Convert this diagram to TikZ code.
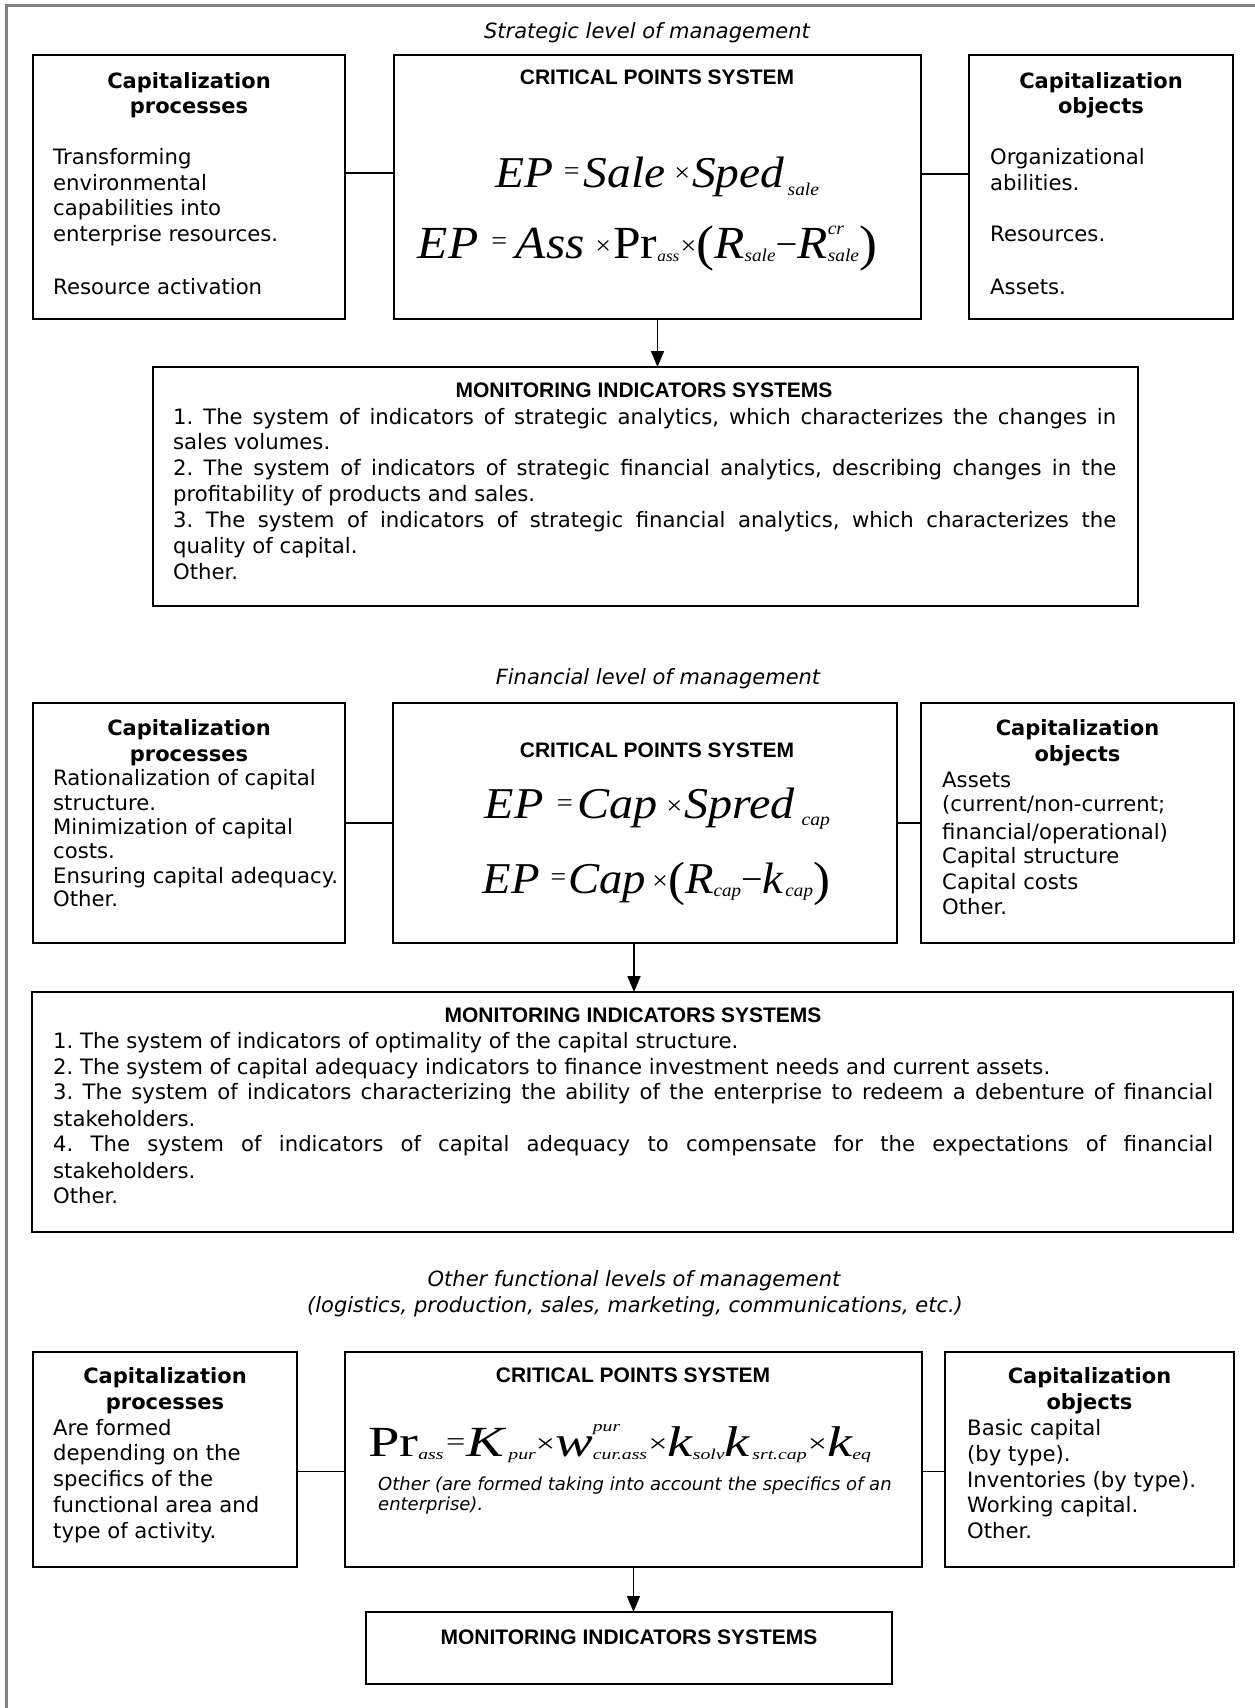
\documentclass[tikz,border=0pt]{standalone}
\usepackage{fontspec}
\usepackage{graphicx}
\usetikzlibrary{arrows.meta}
\newfontfamily\vfont{DejaVu Sans}
\newfontfamily\afont{Liberation Sans}
\newfontfamily\tfont{Liberation Serif}
\frenchspacing
% formula helpers
\newcommand\fxI[2]{{\fontsize{#1pt}{#1pt}\selectfont\itshape #2}}
\newcommand\fxR[2]{{\fontsize{#1pt}{#1pt}\selectfont #2}}
\newcommand\fxO[3]{\raisebox{#1pt}{\fontsize{#2pt}{#2pt}\selectfont #3}}
\newcommand\fxS[3]{\raisebox{#1pt}{\fontsize{#2pt}{#2pt}\selectfont\itshape #3}}
\newcommand\fxSS[5]{\makebox[0pt][l]{\raisebox{#1pt}{\fontsize{#5pt}{#5pt}\selectfont\itshape #2}}\raisebox{#3pt}{\fontsize{#5pt}{#5pt}\selectfont\itshape #4}}
\newcommand\jline[2]{\makebox[#1pt][s]{#2}}
\tikzset{
  box/.style={draw=black, line width=1.8pt, inner sep=0pt, outer sep=0pt},
  conn/.style={draw=black, line width=1.8pt},
  arr/.style={draw=black, line width=1.5pt, -{Triangle[length=16pt,width=13pt]}},
  body/.style={anchor=base west, inner sep=0pt, font=\vfont\fontsize{21.2pt}{25pt}\selectfont},
  ttl/.style={anchor=base, inner sep=0pt, font=\vfont\bfseries\fontsize{21pt}{25pt}\selectfont},
  hdr/.style={anchor=base, inner sep=0pt, font=\afont\bfseries\fontsize{21pt}{25pt}\selectfont},
  lvl/.style={anchor=base, inner sep=0pt, font=\vfont\itshape\fontsize{21pt}{25pt}\selectfont},
  note/.style={anchor=base west, inner sep=0pt, font=\vfont\itshape\fontsize{18pt}{20pt}\selectfont},
  frm/.style={anchor=base, inner sep=0pt, font=\tfont},
}
\begin{document}
\begin{tikzpicture}[x=1pt,y=-1pt]
\fill[white] (0,0) rectangle (1255,1708);
\useasboundingbox (0,0) rectangle (1255,1708);
\draw[gray, line width=3pt] (6.5,1708) -- (6.5,5) -- (1255,5);

% ===== Section 1 =====
\node[lvl] (lev1) at (647,38) {Strategic level of management};
\node[box, minimum width=312pt, minimum height=264pt] (L1) at (189,187) {};
\node[box, minimum width=527pt, minimum height=264pt] (C1) at (657.5,187) {};
\node[box, minimum width=264pt, minimum height=264pt] (R1) at (1101,187) {};
\node[box, minimum width=985pt, minimum height=239pt] (M1) at (645.5,486.5) {};
\draw[conn] ([yshift=14pt]L1.east) -- ([yshift=14pt]L1.east -| C1.west);
\draw[conn] ([yshift=13pt]C1.east) -- ([yshift=13pt]C1.east -| R1.west);
\draw[arr] (C1.south) -- (C1.south |- M1.north);

\node[ttl] (L1t1) at (189,88) {Capitalization};
\node[ttl] (L1t2) at (189,113) {processes};
\node[body] (L1a) at (53,164) {Transforming};
\node[body] (L1b) at (53,190) {environmental};
\node[body] (L1c) at (53,215) {capabilities into};
\node[body] (L1d) at (53,241) {enterprise resources.};
\node[body] (L1e) at (53,294) {Resource activation};

\node[ttl] (R1t1) at (1101,88) {Capitalization};
\node[ttl] (R1t2) at (1101,113) {objects};
\node[body] (R1a) at (990,164) {Organizational};
\node[body] (R1b) at (990,190) {abilities.};
\node[body] (R1c) at (990,241) {Resources.};
\node[body] (R1d) at (990,294) {Assets.};

\node[hdr] (C1h) at (657,84.5) {CRITICAL POINTS SYSTEM};
\node[frm] (C1f1) at (657,187) {\resizebox{324pt}{\height}{\fxI{44}{EP}\hspace{10pt}\fxO{8}{26}{=}\hspace{4pt}\fxI{44}{Sale}\hspace{8pt}\fxO{6}{26}{×}\hspace{2pt}\fxI{44}{Sped}\hspace{3pt}\fxS{-8}{18}{sale}}};
\node[frm] (C1f2) at (647.5,258) {\resizebox{459pt}{\height}{\fxI{46}{EP}\hspace{12pt}\fxO{9}{26}{=}\hspace{8pt}\fxI{46}{Ass}\hspace{10pt}\fxO{4}{26}{×}\hspace{2pt}\fxR{46}{Pr}\fxS{-3}{16}{ass}\hspace{1pt}\fxO{4}{26}{×}\raisebox{-2pt}{\fxR{50}{(}}\fxI{46}{R}\fxS{-3}{18}{sale}\fxO{2}{36}{−}\fxI{46}{R}\fxSS{24}{cr}{-3}{sale}{18}\raisebox{-2pt}{\fxR{50}{)}}}};

\node[hdr] (M1h) at (644,397.5) {MONITORING INDICATORS SYSTEMS};
\node[body] (M1a) at (173,424) {\jline{943}{1. The system of indicators of strategic analytics, which characterizes the changes in}};
\node[body] (M1b) at (173,449) {sales volumes.};
\node[body] (M1c) at (173,475) {\jline{943}{2. The system of indicators of strategic financial analytics, describing changes in the}};
\node[body] (M1d) at (173,501) {profitability of products and sales.};
\node[body] (M1e) at (173,527) {\jline{943}{3. The system of indicators of strategic financial analytics, which characterizes the}};
\node[body] (M1f) at (173,553) {quality of capital.};
\node[body] (M1g) at (173,579) {Other.};

% ===== Section 2 =====
\node[lvl] (lev2) at (658,684) {Financial level of management};
\node[box, minimum width=312pt, minimum height=240pt] (L2) at (189,823) {};
\node[box, minimum width=504pt, minimum height=240pt] (C2) at (645,823) {};
\node[box, minimum width=313pt, minimum height=240pt] (R2) at (1077.5,823) {};
\node[box, minimum width=1201pt, minimum height=240pt] (M2) at (632.5,1112) {};
\draw[conn] (L2.east) -- (C2.west);
\draw[conn] (C2.east) -- (R2.west);
\draw[arr] ([xshift=-11pt]C2.south) -- ([xshift=-11pt]C2.south |- M2.north);

\node[ttl] (L2t1) at (189,735) {Capitalization};
\node[ttl] (L2t2) at (189,761) {processes};
\node[body] (L2a) at (53,785) {Rationalization of capital};
\node[body] (L2b) at (53,810) {structure.};
\node[body] (L2c) at (53,834) {Minimization of capital};
\node[body] (L2d) at (53,858) {costs.};
\node[body] (L2e) at (53,883) {Ensuring capital adequacy.};
\node[body] (L2f) at (53,906) {Other.};

\node[ttl] (R2t1) at (1077.5,735) {Capitalization};
\node[ttl] (R2t2) at (1077.5,761) {objects};
\node[body] (R2a) at (942,787) {Assets};
\node[body] (R2b) at (942,811) {(current/non-current;};
\node[body] (R2c) at (942,839) {financial/operational)};
\node[body] (R2d) at (942,863) {Capital structure};
\node[body] (R2e) at (942,889) {Capital costs};
\node[body] (R2f) at (942,914) {Other.};

\node[hdr] (C2h) at (657,757.5) {CRITICAL POINTS SYSTEM};
\node[frm] (C2f1) at (657.5,818) {\resizebox{345pt}{\height}{\fxI{44}{EP}\hspace{12pt}\fxO{7}{26}{=}\hspace{4pt}\fxI{44}{Cap}\hspace{8pt}\fxO{4}{26}{×}\hspace{2pt}\fxI{44}{Spred}\hspace{6pt}\fxS{-7}{18}{cap}}};
\node[frm] (C2f2) at (656.5,893) {\resizebox{347pt}{\height}{\fxI{44}{EP}\hspace{10pt}\fxO{8}{26}{=}\hspace{2pt}\fxI{44}{Cap}\hspace{6pt}\fxO{4}{26}{×}\raisebox{-2pt}{\fxR{48}{(}}\fxI{44}{R}\fxS{-3}{18}{cap}\fxO{2}{36}{−}\fxI{44}{k}\hspace{2pt}\fxS{-3}{18}{cap}\raisebox{-2pt}{\fxR{48}{)}}}};

\node[hdr] (M2h) at (633,1022.5) {MONITORING INDICATORS SYSTEMS};
\node[body] (M2a) at (53,1048) {1. The system of indicators of optimality of the capital structure.};
\node[body] (M2b) at (53,1074) {2. The system of capital adequacy indicators to finance investment needs and current assets.};
\node[body] (M2c) at (53,1099) {\jline{1160}{3. The system of indicators characterizing the ability of the enterprise to redeem a debenture of financial}};
\node[body] (M2d) at (53,1126) {stakeholders.};
\node[body] (M2e) at (53,1151) {\jline{1160}{4. The system of indicators of capital adequacy to compensate for the expectations of financial}};
\node[body] (M2f) at (53,1178) {stakeholders.};
\node[body] (M2g) at (53,1203) {Other.};

% ===== Section 3 =====
\node[lvl] (lev3a) at (634,1286) {Other functional levels of management};
\node[lvl] (lev3b) at (635,1312) {(logistics, production, sales, marketing, communications, etc.)};
\node[box, minimum width=264pt, minimum height=215pt] (L3) at (165,1459.5) {};
\node[box, minimum width=577pt, minimum height=215pt] (C3) at (633.5,1459.5) {};
\node[box, minimum width=289pt, minimum height=215pt] (R3) at (1089.5,1459.5) {};
\node[box, minimum width=526pt, minimum height=72pt] (M3) at (629,1648) {};
\draw[conn] ([yshift=-12pt]L3.east) -- ([yshift=-12pt]L3.east -| C3.west);
\draw[conn] ([yshift=-12pt]C3.east) -- ([yshift=-12pt]C3.east -| R3.west);
\draw[arr] (C3.south) -- (C3.south |- M3.north);

\node[ttl] (L3t1) at (165,1383) {Capitalization};
\node[ttl] (L3t2) at (165,1409) {processes};
\node[body] (L3a) at (53,1435) {Are formed};
\node[body] (L3b) at (53,1460) {depending on the};
\node[body] (L3c) at (53,1486) {specifics of the};
\node[body] (L3d) at (53,1512) {functional area and};
\node[body] (L3e) at (53,1538) {type of activity.};

\node[ttl] (R3t1) at (1089.5,1383) {Capitalization};
\node[ttl] (R3t2) at (1089.5,1409) {objects};
\node[body] (R3a) at (967,1435) {Basic capital};
\node[body] (R3b) at (967,1461) {(by type).};
\node[body] (R3c) at (967,1487) {Inventories (by type).};
\node[body] (R3d) at (967,1512) {Working capital.};
\node[body] (R3e) at (967,1538) {Other.};

\node[hdr] (C3h) at (633,1382.5) {CRITICAL POINTS SYSTEM};
\node[frm] (C3f) at (619.5,1456) {\resizebox{503pt}{\height}{\fxR{43}{Pr}\fxS{-3}{15}{ass}\hspace{2pt}\fxO{6}{26}{=}\hspace{1pt}\fxI{43}{K}\hspace{3pt}\fxS{-3}{15}{pur}\fxO{4}{26}{×}\fxI{43}{w}\fxSS{25}{pur}{-3}{cur.ass}{15}\hspace{1pt}\fxO{4}{26}{×}\fxI{43}{k}\fxS{-3}{15}{solv}\fxI{43}{k}\hspace{2pt}\fxS{-3}{15}{srt.cap}\hspace{1pt}\fxO{4}{26}{×}\fxI{43}{k}\fxS{-3}{15}{eq}}};
\node[note] (C3n1) at (378,1490) {Other (are formed taking into account the specifics of an};
\node[note] (C3n2) at (378,1510) {enterprise).};

\node[hdr] (M3h) at (629,1644.5) {MONITORING INDICATORS SYSTEMS};
\end{tikzpicture}
\end{document}
